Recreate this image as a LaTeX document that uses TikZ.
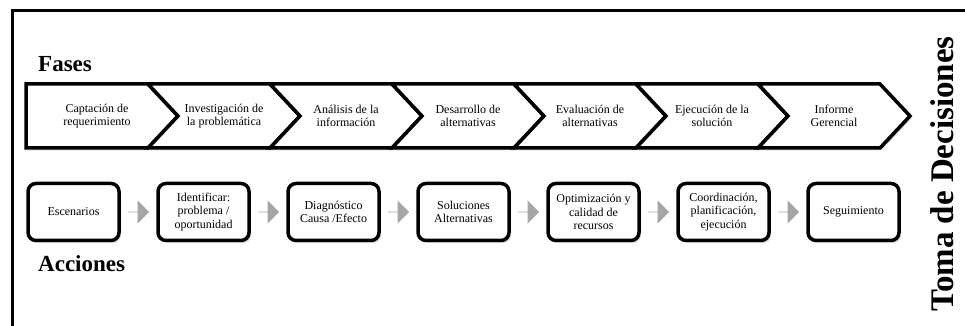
\documentclass[tikz,border=0pt]{standalone}
\usepackage{fontspec}
\setmainfont{Liberation Serif}
\usetikzlibrary{shapes.arrows,shadows,calc}
\definecolor{arrowgray}{HTML}{A6A6A6}
\begin{document}
\begin{tikzpicture}[x=1pt,y=1pt,
  frameline/.style={line width=3pt},
  phase/.style={draw, line width=3.5pt, line join=miter, fill=white,
    drop shadow={opacity=0.3, shadow xshift=1.5pt, shadow yshift=-2.5pt}},
  phasetext/.style={align=center, inner sep=0pt, font=\fontsize{12}{13.5}\selectfont},
  action/.style={draw, line width=3.5pt, rounded corners=8pt, fill=white,
    minimum width=91pt, minimum height=57pt, align=center, inner sep=0pt,
    font=\fontsize{12}{13.5}\selectfont,
    drop shadow={opacity=0.3, shadow xshift=2pt, shadow yshift=-2.5pt}},
  flow/.style={single arrow, fill=arrowgray, draw=none, minimum height=21pt,
    minimum width=23pt, single arrow head extend=5.5pt, inner sep=0pt},
  heading/.style={inner sep=0pt, font=\fontsize{23}{26}\bfseries\selectfont},
  sidetitle/.style={inner sep=0pt, rotate=90, font=\fontsize{33}{36}\bfseries\selectfont}
]
\useasboundingbox (0,0) rectangle (965,326);

% open frame: top and left edges only
\draw[frameline] (12.5,315) -- (965,315);
\draw[frameline] (12.5,316.5) -- (12.5,0);

% phase chevrons
\def\ctop{242}\def\cbot{178}\def\cmid{210}
\path[phase] (26,\ctop) -- (148,\ctop) -- (178,\cmid) -- (148,\cbot) -- (26,\cbot) -- cycle;
\foreach \i in {1,...,6}{
  \pgfmathsetmacro{\L}{26+122*\i}
  \pgfmathsetmacro{\R}{148+122*\i}
  \path[phase] (\L,\ctop) -- (\R,\ctop) -- (\R+30,\cmid) -- (\R,\cbot) -- (\L,\cbot) -- (\L+30,\cmid) -- cycle;
}
\node[phasetext] (p1) at (97,\cmid)  {Captación de\\requerimiento};
\node[phasetext] (p2) at (224,\cmid) {Investigación de\\la problemática};
\node[phasetext] (p3) at (346,\cmid) {Análisis de la\\información};
\node[phasetext] (p4) at (468,\cmid) {Desarrollo de\\alternativas};
\node[phasetext] (p5) at (590,\cmid) {Evaluación de\\alternativas};
\node[phasetext] (p6) at (712,\cmid) {Ejecución de la\\solución};
\node[phasetext] (p7) at (834,\cmid) {Informe\\Gerencial};

% action boxes
\node[action] (a1) at (73.5,114)  {Escenarios};
\node[action] (a2) at (203.5,114) {Identificar:\\problema /\\oportunidad};
\node[action] (a3) at (333.5,114) {Diagnóstico\\Causa /Efecto};
\node[action] (a4) at (463.5,114) {Soluciones\\Alternativas};
\node[action] (a5) at (593.5,114) {Optimización y\\calidad de\\recursos};
\node[action] (a6) at (723.5,114) {Coordinación,\\planificación,\\ejecución};
\node[action] (a7) at (853.5,114) {Seguimiento};

% grey block arrows between actions
\foreach \a/\b in {a1/a2,a2/a3,a3/a4,a4/a5,a5/a6,a6/a7}{
  \node[flow] (f-\a) at ($(\a.east)!0.5!(\b.west)$) {};
}

% headings
\node[heading, anchor=base west] (fases) at (38,254) {Fases};
\node[heading, anchor=base west] (acciones) at (38,54) {Acciones};
\node[sidetitle, anchor=base] (toma) at (953,152) {Toma de Decisiones};
\end{tikzpicture}
\end{document}
